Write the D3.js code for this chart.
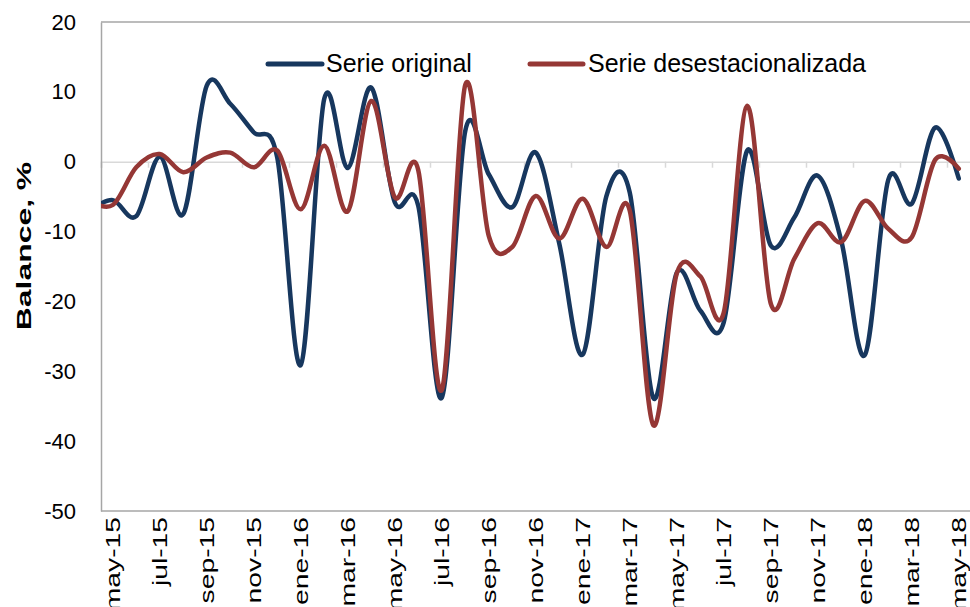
<!DOCTYPE html>
<html>
<head>
<meta charset="utf-8">
<script src="https://cdn.jsdelivr.net/npm/d3@7/dist/d3.min.js"></script>
<style>
  html, body { margin: 0; padding: 0; background: #fff; }
  svg { display: block; font-family: "Liberation Sans", Arial, sans-serif; }
</style>
</head>
<body>
<svg id="chart" width="970" height="607"></svg>
<script>
// Categories (first one lies just outside the visible plot and is clipped)
const months = ["abr-15","may-15","jun-15","jul-15","ago-15","sep-15","oct-15","nov-15","dic-15",
  "ene-16","feb-16","mar-16","abr-16","may-16","jun-16","jul-16","ago-16","sep-16","oct-16","nov-16","dic-16",
  "ene-17","feb-17","mar-17","abr-17","may-17","jun-17","jul-17","ago-17","sep-17","oct-17","nov-17","dic-17",
  "ene-18","feb-18","mar-18","abr-18","may-18"];

const serieOriginal = [-7.0,
  -5.5, -7.8, 0.7, -7.5, 10.9, 8.3, 4.2, 0.6,
  -29.1, 9.0, -0.9, 10.6, -5.8, -6.3, -33.8, 4.4, -1.8, -6.5, 1.3, -11.7,
  -27.6, -5.0, -4.4, -33.8, -15.9, -21.3, -23.0, 1.6, -12.0, -8.0, -2.0, -11.3,
  -27.7, -2.6, -6.0, 4.9, -2.4];

const serieDesest = [-5.6,
  -6.2, -0.8, 1.1, -1.5, 0.6, 1.3, -0.8, 1.6,
  -6.8, 2.3, -7.1, 8.7, -5.1, -1.2, -32.7, 11.0, -10.6, -12.2, -4.9, -11.0,
  -5.3, -12.2, -7.0, -37.7, -16.0, -16.4, -21.6, 8.0, -20.3, -13.9, -8.8, -11.5,
  -5.6, -9.6, -10.8, 0.3, -1.0];

const yTicks = [20, 10, 0, -10, -20, -30, -40, -50];
const xLabelMonths = ["may-15","jul-15","sep-15","nov-15","ene-16","mar-16","may-16","jul-16","sep-16",
  "nov-16","ene-17","mar-17","may-17","jul-17","sep-17","nov-17","ene-18","mar-18","may-18"];

const seriesNames = ["Serie original", "Serie desestacionalizada"];
const colors = ["#17375e", "#953735"];

const svg = d3.select("#chart");
const pLeft = 101, pRight = 970.5, pTop = 22, pBottom = 511;

const x = d3.scaleLinear().domain([-0.5, 36.5]).range([pLeft, pRight]);
const y = d3.scaleLinear().domain([-50, 20]).range([pBottom, pTop]);

const idx = m => months.indexOf(m) - 1;

// clip
svg.append("defs").append("clipPath").attr("id", "plotclip")
  .append("rect").attr("x", pLeft).attr("y", 0).attr("width", pRight - pLeft).attr("height", 607);

// plot borders
svg.append("line").attr("x1", pLeft).attr("x2", pRight).attr("y1", pTop).attr("y2", pTop)
  .attr("stroke", "#a6a6a6").attr("stroke-width", 1.5);
svg.append("line").attr("x1", pLeft).attr("x2", pRight).attr("y1", pBottom).attr("y2", pBottom)
  .attr("stroke", "#a6a6a6").attr("stroke-width", 1.5);

// zero line with category ticks (every 2 months, between categories)
const xAxis = d3.axisBottom(x)
  .tickValues(d3.range(-0.5, 37, 2))
  .tickSize(6)
  .tickFormat("");
const gx = svg.append("g").attr("transform", `translate(0,${y(0)})`).call(xAxis);
gx.select(".domain").attr("stroke", "#d9d9d9").attr("stroke-width", 1.5);
gx.selectAll(".tick line").attr("stroke", "#d9d9d9").attr("stroke-width", 1.5);

// left axis
const yAxis = d3.axisLeft(y).tickValues(yTicks).tickSize(0).tickPadding(25).tickFormat(d => String(d));
const gy = svg.append("g").attr("transform", `translate(${pLeft},0)`).call(yAxis);
gy.select(".domain").attr("stroke", "#a6a6a6").attr("stroke-width", 1.5);
gy.selectAll(".tick text").attr("font-size", 22).attr("fill", "#000")
  .attr("font-family", "'Liberation Sans', Arial, sans-serif");

// x labels (rotated)
svg.append("g").selectAll("text").data(xLabelMonths).join("text")
  .attr("transform", d => `translate(${x(idx(d))},517) rotate(-90) scale(1.45,1)`)
  .attr("text-anchor", "end")
  .attr("dy", "0.36em")
  .attr("font-size", 19.5)
  .attr("fill", "#000")
  .text(d => d);

// y title
svg.append("text")
  .attr("transform", "translate(23,246) rotate(-90) scale(1.52,1)")
  .attr("text-anchor", "middle")
  .attr("dy", "0.36em")
  .attr("font-size", 21)
  .attr("font-weight", "bold")
  .attr("fill", "#000")
  .text("Balance, %");

// lines
const line = d3.line()
  .x((d, i) => x(i - 1))
  .y(d => y(d))
  .curve(d3.curveCatmullRom.alpha(0));

const gLines = svg.append("g").attr("clip-path", "url(#plotclip)");
[serieOriginal, serieDesest].forEach((s, k) => {
  gLines.append("path").datum(s)
    .attr("d", line)
    .attr("fill", "none")
    .attr("stroke", colors[k])
    .attr("stroke-width", 4.5)
    .attr("stroke-linejoin", "round")
    .attr("stroke-linecap", "round");
});

// legend
const legendPos = [{x1: 268, x2: 322, tx: 326}, {x1: 530, x2: 583, tx: 588}];
seriesNames.forEach((name, k) => {
  const p = legendPos[k];
  svg.append("line").attr("x1", p.x1).attr("x2", p.x2).attr("y1", 64).attr("y2", 64)
    .attr("stroke", colors[k]).attr("stroke-width", 5).attr("stroke-linecap", "round");
  svg.append("text").attr("x", p.tx).attr("y", 72)
    .attr("font-size", 25).attr("fill", "#000").text(name);
});
</script>
</body>
</html>
